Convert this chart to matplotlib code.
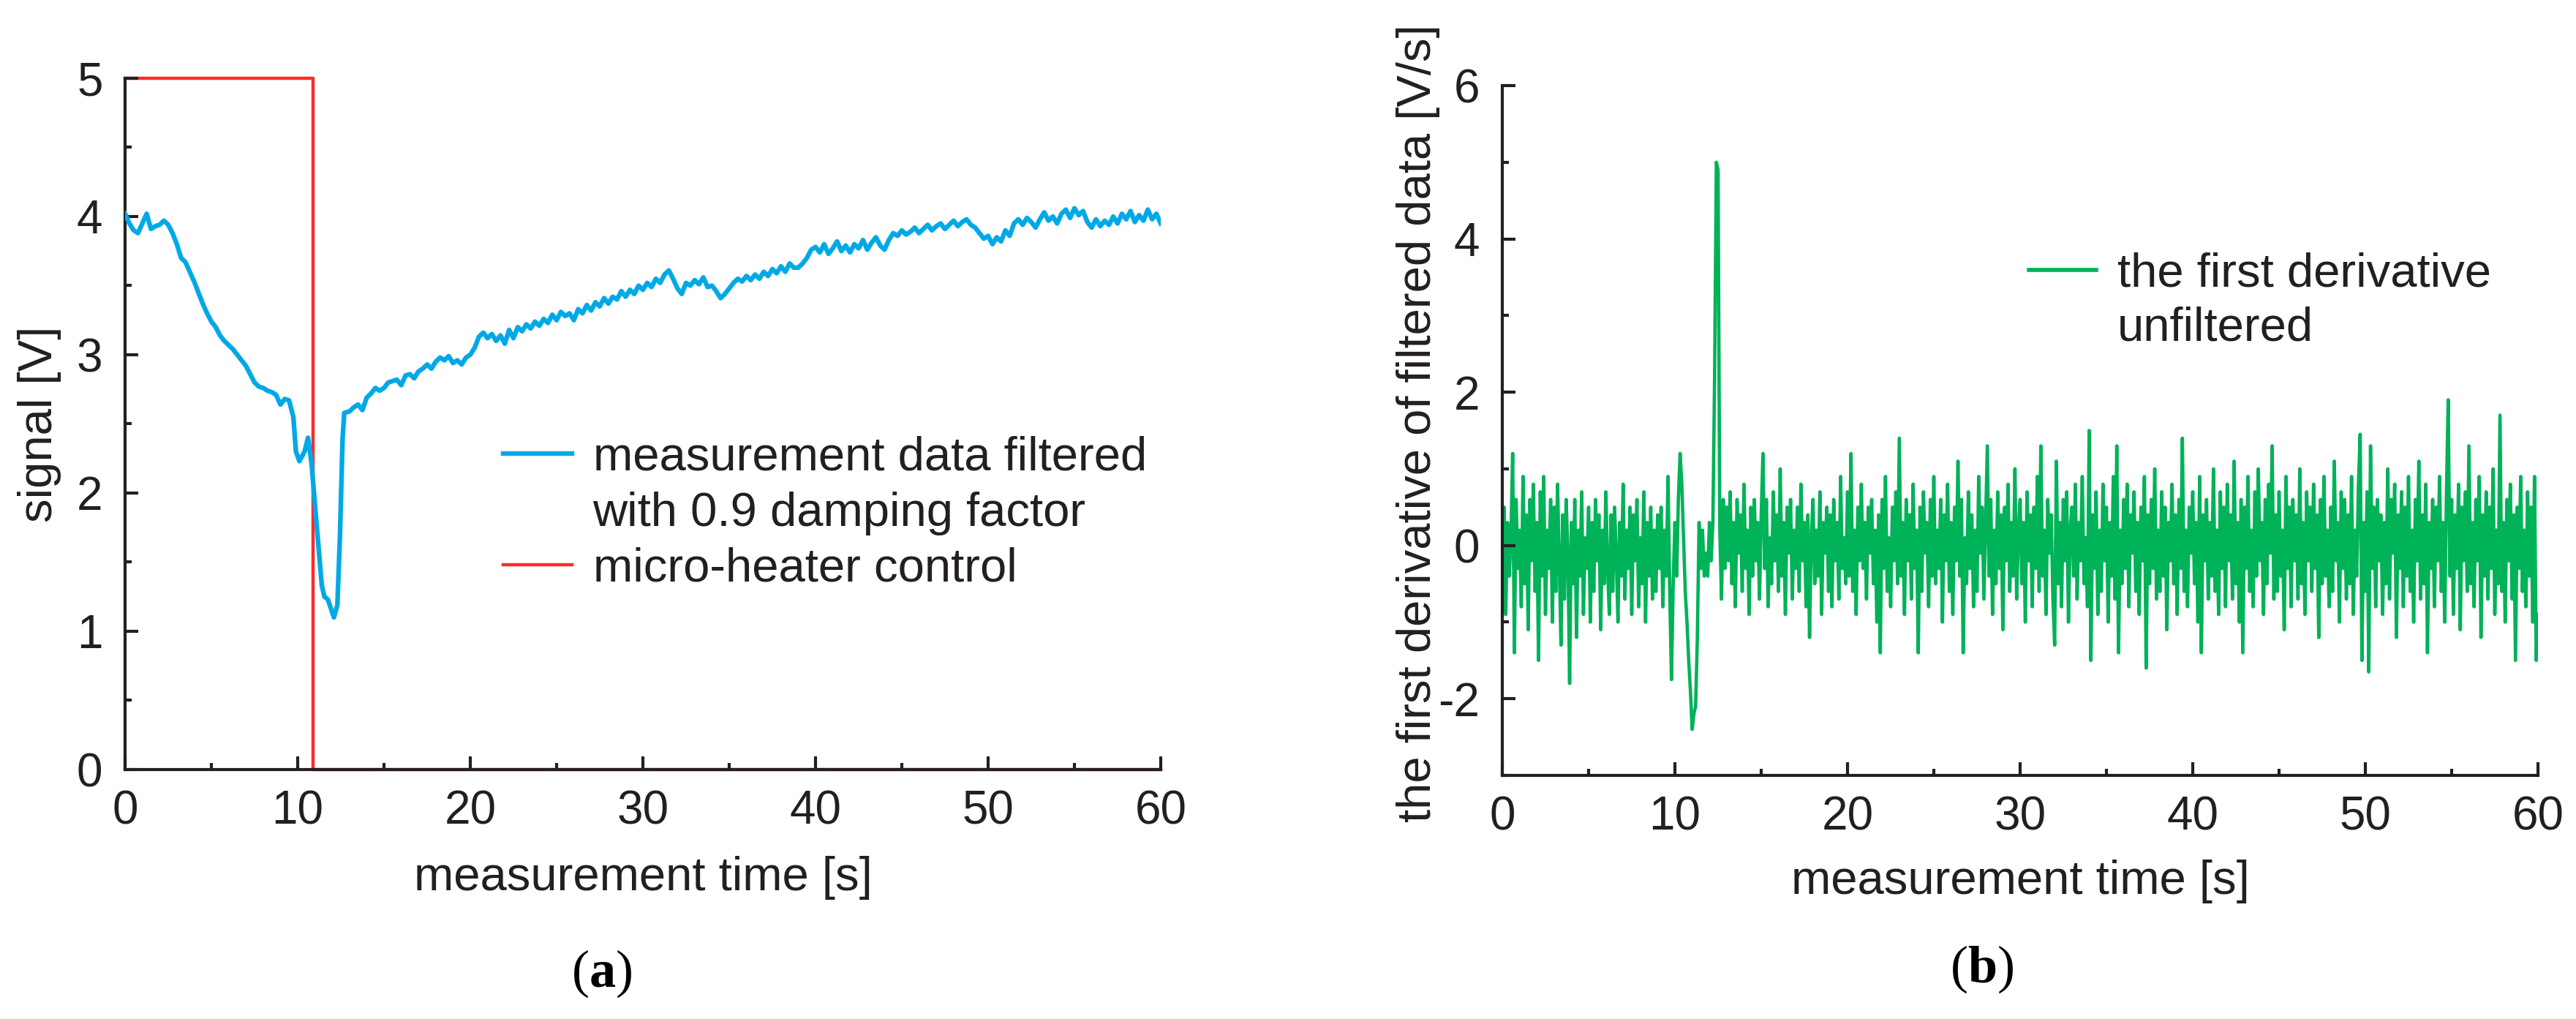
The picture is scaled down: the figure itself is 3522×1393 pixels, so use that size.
import matplotlib
matplotlib.use("Agg")
import matplotlib.pyplot as plt
import numpy as np
from matplotlib.lines import Line2D
from matplotlib.ticker import MultipleLocator

plt.rcParams['font.family'] = ['Liberation Sans', 'DejaVu Sans']
plt.rcParams['mathtext.fontset'] = 'custom'
plt.rcParams['mathtext.rm'] = 'Liberation Serif'
plt.rcParams['mathtext.bf'] = 'Liberation Serif:bold'
plt.rcParams['axes.unicode_minus'] = False

# ---------------- data: panel (a) ----------------
# filtered signal, segment 0 .. 9.75 s (0.25 s steps)
signal_early = [4.02, 3.95, 3.90, 3.88, 3.95, 4.02, 3.91, 3.93, 3.94, 3.97,
                3.94, 3.88, 3.80, 3.70, 3.67, 3.60, 3.53, 3.45, 3.37, 3.30,
                3.24, 3.20, 3.14, 3.10, 3.07, 3.04, 3.00, 2.96, 2.92, 2.86,
                2.80, 2.77, 2.76, 2.74, 2.73, 2.71, 2.64, 2.68, 2.67, 2.55]
# the dip around heater switch-off
dip_time = [9.9, 10.1, 10.4, 10.6, 10.8, 11.1, 11.4, 11.55, 11.75, 12.1, 12.3, 12.45, 12.6, 12.7]
dip_signal = [2.30, 2.23, 2.30, 2.40, 2.22, 1.77, 1.33, 1.25, 1.23, 1.10, 1.19, 1.69, 2.39, 2.58]
# recovery, 13 .. 60 s (0.25 s steps)
signal_late = [2.59, 2.62, 2.64, 2.60, 2.69, 2.72, 2.76, 2.74, 2.76, 2.80,
               2.81, 2.82, 2.78, 2.85, 2.86, 2.83, 2.88, 2.90, 2.93, 2.90,
               2.95, 2.98, 2.96, 2.99, 2.94, 2.96, 2.93, 2.98, 3.00, 3.05,
               3.13, 3.16, 3.12, 3.15, 3.10, 3.14, 3.08, 3.18, 3.12, 3.20,
               3.17, 3.22, 3.19, 3.24, 3.21, 3.26, 3.23, 3.29, 3.25, 3.31,
               3.28, 3.30, 3.25, 3.33, 3.30, 3.36, 3.32, 3.38, 3.35, 3.41,
               3.37, 3.42, 3.40, 3.46, 3.42, 3.47, 3.44, 3.50, 3.47, 3.52,
               3.49, 3.55, 3.52, 3.58, 3.61, 3.55, 3.48, 3.44, 3.52, 3.50,
               3.54, 3.51, 3.56, 3.49, 3.50, 3.46, 3.41, 3.44, 3.48, 3.52,
               3.55, 3.53, 3.57, 3.54, 3.58, 3.55, 3.60, 3.57, 3.62, 3.59,
               3.64, 3.60, 3.66, 3.63, 3.63, 3.66, 3.70, 3.76, 3.78, 3.74,
               3.80, 3.73, 3.77, 3.82, 3.75, 3.79, 3.74, 3.80, 3.77, 3.83,
               3.76, 3.81, 3.85, 3.79, 3.76, 3.83, 3.88, 3.86, 3.90, 3.87,
               3.89, 3.92, 3.88, 3.91, 3.94, 3.90, 3.93, 3.95, 3.91, 3.94,
               3.97, 3.93, 3.96, 3.98, 3.94, 3.92, 3.88, 3.84, 3.86, 3.80,
               3.85, 3.82, 3.90, 3.86, 3.95, 3.98, 3.94, 3.99, 3.96, 3.92,
               3.98, 4.03, 3.97, 4.00, 3.95, 4.02, 4.05, 3.99, 4.06, 4.01,
               4.04, 3.96, 3.92, 3.98, 3.93, 3.97, 3.94, 4.00, 3.95, 4.02,
               3.98, 4.04, 3.96, 4.01, 3.97, 4.05, 3.98, 4.02, 3.95]
# micro-heater control
heater_time = [0, 10.9, 10.9, 60]
heater_level = [5, 5, 0, 0]

# ---------------- data: panel (b) ----------------
# first derivative, 0 .. 60 s (0.1 s steps)
deriv_values = [
    -0.2, 0.5, -0.9, 0.3, -0.4, 0.1, 1.2, -1.4, 0.6, -0.3,
    0.2, -0.8, 0.9, -0.5, 0.4, -1.1, 0.6, -0.2, 0.8, -0.6,
    0.3, -1.5, 0.7, -0.4, 0.9, -0.9, 0.2, -0.3, 0.6, -1.0,
    0.5, -0.6, 0.8, -0.2, -1.3, 0.4, -0.7, 0.6, -0.1, -1.8,
    0.3, -0.5, 0.6, -1.2, 0.2, -0.4, 0.7, -0.9, 0.1, -0.3,
    0.5, -1.0, 0.3, -0.6, 0.6, -0.2, 0.4, -1.1, 0.2, -0.5,
    0.7, -0.3, -0.9, 0.4, -0.6, 0.5, -0.1, -1.0, 0.3, -0.4,
    0.8, -0.7, 0.2, -0.3, 0.5, -0.9, 0.4, -0.2, 0.6, -0.8,
    0.1, -0.5, 0.7, -1.0, 0.3, -0.4, 0.5, -0.7, 0.2, -0.6,
    0.4, -0.3, 0.5, -0.8, 0.2, -0.4, 0.9, -0.6, -1.75, -0.5,
    0.3, -0.4, 0.6, 1.2, 0.8, 0.1, -0.6, -1.0, -1.5, -1.9,
    -2.4, -2.2, -2.1, -1.2, 0.3, -0.3, 0.2, -0.4, -0.1, -0.4,
    0.3, -0.2, 0.3, 2.2, 5.0, 4.9, 0.2, -0.7, 0.6, -0.3,
    0.5, -0.2, 0.7, -0.5, 0.3, -0.8, 0.6, -0.1, 0.4, -0.6,
    0.8, -0.3, 0.2, -0.9, 0.5, -0.4, 0.6, -0.2, 0.3, -0.7,
    0.4, 1.2, -0.3, 0.6, -0.8, 0.1, -0.5, 0.7, -0.2, 0.4,
    -0.6, 1.0, -0.4, 0.3, -0.9, 0.5, -0.1, 0.6, -0.7, 0.2,
    -0.3, 0.5, -0.6, 0.8, -0.2, 0.3, -0.8, 0.4, -1.2, 0.1,
    0.6, -0.5, 0.2, -0.4, 0.7, -0.9, 0.3, -0.1, 0.5, -0.6,
    0.4, -0.8, 0.6, -0.2, 0.3, -0.7, 0.9, -0.3, 0.1, -0.5,
    0.7, -0.4, 1.2, -0.6, 0.2, -0.9, 0.5, -0.2, 0.8, -0.3,
    0.3, -0.7, 0.5, -0.1, 0.6, -0.5, 0.2, -1.0, 0.4, -1.4,
    0.6, -0.3, 0.9, -0.6, 0.1, -0.8, 0.5, -0.2, 0.7, -0.5,
    1.4, -0.4, 0.3, -0.9, 0.6, -0.2, 0.4, -0.7, 0.8, -0.3,
    0.2, -1.4, 0.5, -0.6, 0.7, -0.1, 0.3, -0.8, 0.6, -0.4,
    0.9, -0.5, 0.2, -0.3, 0.6, -1.0, 0.4, -0.2, 0.8, -0.6,
    0.3, -0.9, 0.5, -0.2, 1.1, -0.4, 0.6, -1.4, 0.1, -0.5,
    0.7, -0.3, 0.4, -0.8, 0.2, -0.6, 0.9, -0.1, 0.5, -0.7,
    0.3, 1.3, -0.4, 0.6, -0.9, 0.2, -0.5, 0.7, -0.3, 0.4,
    -1.1, 0.5, -0.2, 0.8, -0.6, 0.3, -0.4, 1.0, -0.7, 0.2,
    0.6, -0.5, 0.3, -1.0, 0.7, -0.2, 0.4, -0.8, 0.5, -0.3,
    0.9, -0.6, 1.3, -0.4, 0.2, -0.9, 0.6, -0.1, 0.4, -0.7,
    -1.3, 1.1, -0.5, 0.3, -0.8, 0.6, -0.2, 0.7, -1.0, 0.2,
    0.5, -0.4, 0.8, -0.7, 0.3, -0.2, 0.9, -0.5, 0.1, -0.8,
    1.5, -1.5, 0.4, -0.3, 0.7, -0.9, 0.2, -0.6, 0.8, -0.2,
    0.5, -1.0, 0.3, -0.4, 0.9, -0.7, 1.3, -1.4, 0.2, -0.5,
    0.6, -0.3, 0.8, -0.8, 0.4, -0.1, 0.7, -0.6, 0.3, -0.9,
    0.5, -0.2, 0.9, -1.6, 0.4, -0.5, 0.6, -0.3, 1.0, -0.7,
    0.2, -0.6, 0.7, -0.4, 0.5, -1.1, 0.3, -0.2, 0.8, -0.5,
    0.4, -0.9, 0.6, -0.3, 1.4, -0.6, 0.2, -0.8, 0.5, -0.1,
    0.7, -0.5, 0.3, -1.0, 0.9, -1.4, 0.4, -0.2, 0.6, -0.7,
    0.3, -0.4, 1.0, -0.6, 0.2, -0.9, 0.7, -0.3, 0.5, -0.8,
    0.8, -0.2, 0.4, -0.7, 1.1, -0.5, 0.3, -1.0, 0.6, -1.4,
    0.5, -0.3, 0.9, -0.6, 0.2, -0.8, 0.7, -0.4, 1.0, -0.2,
    0.3, -0.9, 0.6, -0.5, 0.8, -0.1, 1.3, -0.7, 0.4, -0.6,
    0.7, -0.4, 0.2, -1.1, 0.9, -0.3, 0.5, -0.8, 0.6, -0.2,
    0.4, -0.7, 1.0, -0.5, 0.3, -0.9, 0.7, -0.2, 0.5, -0.6,
    0.8, -0.3, 0.4, -1.2, 0.6, -0.5, 0.9, -0.4, 0.2, -0.8,
    0.5, -0.6, 1.1, -0.2, 0.3, -1.0, 0.7, -0.3, 0.6, -0.7,
    0.4, -0.5, 0.9, -0.9, 0.2, -0.4, 0.8, 1.45, -1.5, 0.3,
    -0.6, 0.7, -1.65, 1.3, -0.3, 0.5, -0.8, 0.6, -0.2, 0.4,
    -0.9, 0.3, -0.5, 1.0, -0.7, 0.6, -0.1, 0.8, -1.2, 0.4,
    -0.3, 0.7, -0.8, 0.5, -0.4, 0.9, -0.6, 0.2, -1.0, 0.6,
    -0.2, 1.1, -0.7, 0.4, -0.5, 0.8, -1.4, 0.3, -0.3, 0.6,
    -0.8, 0.5, -0.2, 0.9, -0.6, 0.3, -1.0, 0.7, 1.9, -0.4,
    0.6, -0.9, 0.4, -0.3, 0.8, -1.1, 0.5, -0.2, 0.7, -0.6,
    1.3, -0.5, 0.3, -0.8, 0.6, -0.2, 0.9, -1.2, 0.4, -0.4,
    0.7, -0.7, 0.5, -0.3, 1.0, -0.9, 0.2, -0.5, 1.7, -0.6,
    0.3, -1.0, 0.6, -0.2, 0.8, -0.7, 0.4, -1.5, 0.5, -0.3,
    0.9, -0.6, 0.2, -0.8, 0.7, -0.4, 0.5, -1.0, 0.9, -1.5,
    -0.9]

x_ticks = [0, 10, 20, 30, 40, 50, 60]
left_yticks = [0, 1, 2, 3, 4, 5]
right_yticks = [-2, 0, 2, 4, 6]

# ---------------- styling ----------------
INK = '#231f20'
BLUE = '#00a9e6'
RED = '#ff2b2b'
GREEN = '#00b258'

signal_time = np.concatenate([np.linspace(0, 9.75, len(signal_early)),
                              np.array(dip_time),
                              np.linspace(13.0, 60.0, len(signal_late))])
signal_volts = np.concatenate([signal_early, dip_signal, signal_late])
deriv_time = np.linspace(0, 60, len(deriv_values))

fig = plt.figure(figsize=(35.22, 13.93), dpi=100)
ax1 = fig.add_axes([0.04855, 0.24480, 0.40204, 0.67839])
ax2 = fig.add_axes([0.58319, 0.23905, 0.40204, 0.67696])


def style(ax):
    for s in ['top', 'right']:
        ax.spines[s].set_visible(False)
    for s in ['left', 'bottom']:
        ax.spines[s].set_linewidth(3.0)
        ax.spines[s].set_color(INK)
    ax.tick_params(which='both', direction='in', color=INK, width=3.0,
                   labelcolor=INK, labelsize=46)
    ax.tick_params(which='major', length=13)
    ax.tick_params(which='minor', length=6.5)
    ax.tick_params(axis='x', which='both', pad=20)
    ax.tick_params(axis='y', which='both', pad=22)
    ax.set_axisbelow(False)
    ax.set_xlim(0, 60)
    ax.set_xticks(x_ticks)
    ax.xaxis.set_minor_locator(MultipleLocator(5))


# panel (a)
style(ax1)
blue_line, = ax1.plot(signal_time, signal_volts, color=BLUE, lw=4.6, zorder=3,
                      solid_joinstyle='round')
red_line, = ax1.plot(heater_time, heater_level, color=RED, lw=3.2, zorder=2,
                     clip_on=False)
ax1.set_ylim(0, 5)
ax1.set_yticks(left_yticks)
ax1.yaxis.set_minor_locator(MultipleLocator(0.5))
ax1.set_xlabel('measurement time [s]', fontsize=47, color=INK)
ax1.set_ylabel('signal [V]', fontsize=47, color=INK)
ax1.xaxis.label.set_va('center')
ax1.yaxis.label.set_va('center')
ax1.xaxis.set_label_coords(0.5, -0.1566)
ax1.yaxis.set_label_coords(-0.0826, 0.5)
blank = Line2D([], [], color='none')
ax1.legend([blue_line, blank, red_line],
           ['measurement data filtered', 'with 0.9 damping factor', 'micro-heater control'],
           loc='upper left', bbox_to_anchor=(0.365, 0.483), frameon=False,
           fontsize=47, handlelength=1.45, handletextpad=0.43, labelspacing=0.245,
           borderpad=0, borderaxespad=0, labelcolor=INK)

# panel (b)
style(ax2)
green_line, = ax2.plot(deriv_time, deriv_values, color=GREEN, lw=3.3, zorder=2)
ax2.set_ylim(-3, 6)
ax2.set_yticks(right_yticks)
ax2.yaxis.set_minor_locator(MultipleLocator(1))
ax2.set_xlabel('measurement time [s]', fontsize=47, color=INK)
ax2.set_ylabel('the first derivative of filtered data [V/s]', fontsize=47, color=INK)
ax2.xaxis.label.set_va('center')
ax2.yaxis.label.set_va('center')
ax2.xaxis.set_label_coords(0.5, -0.154)
ax2.yaxis.set_label_coords(-0.0812, 0.51)
blank2 = Line2D([], [], color='none')
ax2.legend([Line2D([], [], color=GREEN, lw=4.0), blank2],
           ['the first derivative', 'unfiltered'],
           loc='upper left', bbox_to_anchor=(0.5085, 0.7587), frameon=False,
           fontsize=47, handlelength=1.41, handletextpad=0.44, labelspacing=0.21,
           borderpad=0, borderaxespad=0, labelcolor=INK)

# panel captions
fig.text(0.2334, 0.0445, r'$(\mathbf{a})$', ha='center', va='center', fontsize=52, color='black')
fig.text(0.7692, 0.0488, r'$(\mathbf{b})$', ha='center', va='center', fontsize=52, color='black')

fig.savefig('out.png', dpi=100)
